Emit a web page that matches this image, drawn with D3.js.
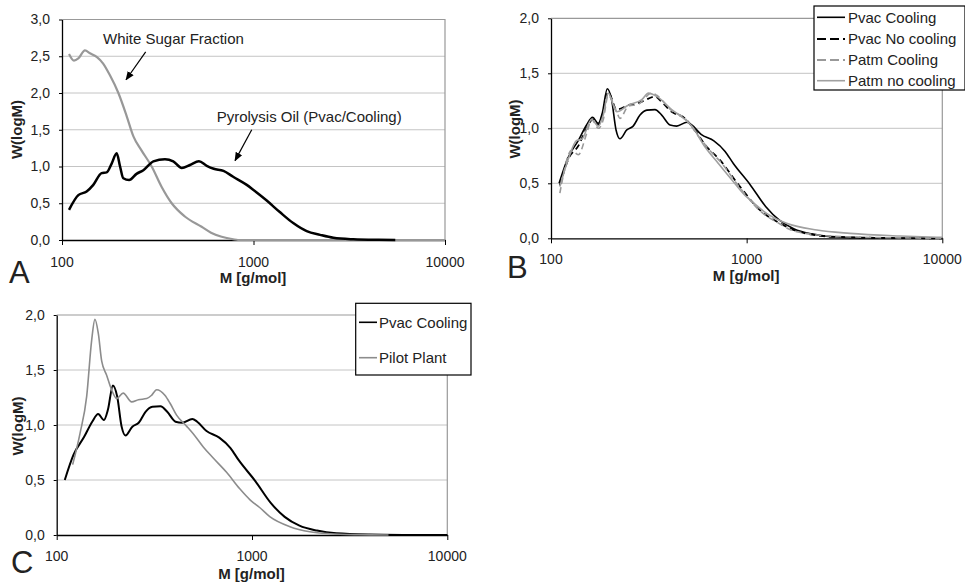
<!DOCTYPE html>
<html>
<head>
<meta charset="utf-8">
<script src="https://cdn.jsdelivr.net/npm/d3@7"></script>
<style>
  html, body { margin: 0; padding: 0; background: #fff; }
  svg { display: block; font-family: "Liberation Sans", Arial, sans-serif; }
</style>
</head>
<body>
<svg id="chart" width="965" height="582"></svg>
<script>
// Molar mass axis ticks (log scale) and W(logM) ticks
const massTicks = [100, 1000, 10000];
const wTicksA = [0, 0.5, 1.0, 1.5, 2.0, 2.5, 3.0];
const wTicksBC = [0, 0.5, 1.0, 1.5, 2.0];

// Panel A: white sugar fraction vs. pyrolysis oil
const sugarM = [108.8, 115.5, 121.7, 131.8, 140, 151.7, 164, 178, 197, 218, 236, 260, 294, 331, 374, 438, 536, 600, 682, 783, 830, 10000];
const sugarW = [2.53, 2.44, 2.47, 2.58, 2.54, 2.49, 2.40, 2.24, 2.0, 1.68, 1.41, 1.22, 1.0, 0.725, 0.5, 0.32, 0.18, 0.10, 0.045, 0.01, 0, 0];

const oilM = [108.8, 121.7, 134.5, 145.7, 161, 171, 181.7, 193, 201, 209, 224, 245, 266, 300, 345, 381, 422, 466, 519, 570, 620, 697, 783, 922, 1000, 1168, 1372, 1612, 1896, 2227, 2614, 3320, 4500, 5500];
const oilW = [0.41, 0.61, 0.66, 0.75, 0.91, 0.92, 1.04, 1.18, 1.0, 0.84, 0.815, 0.90, 0.95, 1.07, 1.10, 1.07, 0.98, 1.02, 1.07, 1.01, 0.97, 0.94, 0.86, 0.75, 0.68, 0.54, 0.38, 0.23, 0.12, 0.07, 0.03, 0.01, 0.002, 0];

// Panel B / C: process conditions
const pvacCoolM = [110, 122, 138, 152, 163, 174.5, 183, 194, 204, 215, 225, 244, 263, 285, 309, 340, 368, 406, 439, 495, 524, 585, 680, 776, 855, 1040, 1250, 1470, 1750, 2150, 2700, 4000, 6000, 10000];
const pvacCoolW = [0.50, 0.73, 0.89, 1.03, 1.10, 1.045, 1.14, 1.36, 1.26, 0.985, 0.905, 0.985, 1.02, 1.12, 1.165, 1.17, 1.12, 1.03, 1.02, 1.055, 1.03, 0.945, 0.885, 0.79, 0.68, 0.49, 0.29, 0.165, 0.085, 0.04, 0.015, 0.004, 0.001, 0];

const pvacNoM = [111, 122.6, 137.9, 152, 163, 174.5, 185, 196, 216.6, 248, 280, 315, 340, 368, 414, 484, 545, 613, 731, 924, 1170, 1482, 1665, 2000, 2456, 3500, 6000, 10000];
const pvacNoW = [0.48, 0.72, 0.84, 1.0, 1.08, 1.03, 1.15, 1.33, 1.17, 1.21, 1.23, 1.27, 1.29, 1.24, 1.15, 1.09, 0.98, 0.85, 0.71, 0.47, 0.257, 0.136, 0.09, 0.045, 0.02, 0.008, 0.002, 0];

const patmCoolM = [111, 127.6, 137.9, 152, 161.4, 174.5, 185, 196, 216.6, 225, 248, 280, 327, 347, 414, 484, 566, 663, 731, 924, 1170, 1482, 1665, 2000, 2456, 3500, 6000, 10000];
const patmCoolW = [0.41, 0.80, 0.76, 0.95, 1.08, 1.0, 1.08, 1.30, 1.15, 1.09, 1.20, 1.22, 1.32, 1.30, 1.16, 1.09, 0.93, 0.78, 0.70, 0.46, 0.25, 0.13, 0.08, 0.045, 0.025, 0.012, 0.004, 0];

const patmNoM = [111, 122.6, 135.3, 143.5, 161.4, 174.5, 185, 196, 216.6, 248, 291, 315, 347, 414, 484, 524, 613, 717, 841, 981, 1040, 1265, 1600, 2287, 3375, 6090, 10000];
const patmNoW = [0.47, 0.72, 0.89, 0.90, 1.08, 1.02, 1.12, 1.32, 1.15, 1.21, 1.26, 1.32, 1.29, 1.17, 1.08, 1.02, 0.83, 0.68, 0.53, 0.39, 0.35, 0.227, 0.136, 0.075, 0.045, 0.021, 0.008];

const pilotM = [120.7, 131.5, 142.4, 151, 157, 163.4, 170, 180, 191, 203, 219, 242, 262, 289, 306, 325, 358, 380, 411, 462, 500, 563, 633, 741, 866, 977, 1094, 1233, 1564, 1978, 2500, 3500, 5000];
const pilotW = [0.64, 0.92, 1.26, 1.77, 1.96, 1.83, 1.58, 1.455, 1.32, 1.24, 1.29, 1.21, 1.23, 1.24, 1.27, 1.32, 1.27, 1.20, 1.09, 0.99, 0.92, 0.80, 0.70, 0.57, 0.42, 0.32, 0.25, 0.167, 0.076, 0.03, 0.012, 0.003, 0];

const zip = (m, w) => m.map((v, i) => ({ m: v, w: w[i] }));

const svg = d3.select("#chart");
const fmtW = d => d.toFixed(1).replace(".", ",");

svg.append("defs").append("marker")
  .attr("id", "arrow")
  .attr("viewBox", "0 0 10 10")
  .attr("refX", 9).attr("refY", 5)
  .attr("markerWidth", 9).attr("markerHeight", 9)
  .attr("markerUnits", "userSpaceOnUse")
  .attr("orient", "auto")
  .append("path").attr("d", "M0,1 L10,5 L0,9 Z").attr("fill", "#000");

const panels = [
  {
    letter: "A", left: 62, right: 445, top: 19.5, bottom: 240, yMax: 3, yTicks: wTicksA,
    letterPos: [9, 283], yLabelPos: [17, 129.5], xLabelY: 283, tickLabelY: 267,
    series: [
      { data: zip(sugarM, sugarW), color: "#989898", width: 2.2 },
      { data: zip(oilM, oilW), color: "#000", width: 2.5 }
    ],
    notes: [
      { text: "White Sugar Fraction", at: [163.7, 2.67], from: [273.5, 2.56], to: [216, 2.18] },
      { text: "Pyrolysis Oil (Pvac/Cooling)", at: [642, 1.605], from: [979, 1.50], to: [801, 1.08] }
    ]
  },
  {
    letter: "B", left: 551, right: 942.3, top: 18.3, bottom: 238.3, yMax: 2, yTicks: wTicksBC,
    letterPos: [507, 278], yLabelPos: [515, 129], xLabelY: 281, tickLabelY: 264,
    series: [
      { name: "Pvac Cooling", data: zip(pvacCoolM, pvacCoolW), color: "#000", width: 1.6 },
      { name: "Pvac No cooling", data: zip(pvacNoM, pvacNoW), color: "#000", width: 1.8, dash: "6,4" },
      { name: "Patm Cooling", data: zip(patmCoolM, patmCoolW), color: "#999", width: 1.6, dash: "6,4" },
      { name: "Patm no cooling", data: zip(patmNoM, patmNoW), color: "#a0a0a0", width: 1.6 }
    ],
    legend: { x: 814, y: 6, w: 151, h: 84, rows: [17.3, 39, 60, 80.7], lineX: [817, 845], textX: 848 }
  },
  {
    letter: "C", left: 56.7, right: 447.3, top: 315, bottom: 535, yMax: 2, yTicks: wTicksBC,
    letterPos: [11, 573], yLabelPos: [18.3, 426], xLabelY: 579, tickLabelY: 561,
    series: [
      { name: "Pvac Cooling", data: zip(pvacCoolM, pvacCoolW), color: "#000", width: 2 },
      { name: "Pilot Plant", data: zip(pilotM, pilotW), color: "#8c8c8c", width: 1.6 }
    ],
    legend: { x: 355.7, y: 303.3, w: 115.3, h: 71.7, rows: [322.3, 357.7], lineX: [359, 377], textX: 379 }
  }
];

panels.forEach(p => {
  const x = d3.scaleLog().domain([100, 10000]).range([p.left, p.right]);
  const y = d3.scaleLinear().domain([0, p.yMax]).range([p.bottom, p.top]);
  const g = svg.append("g");

  // horizontal grid
  g.append("g").selectAll("line")
    .data(p.yTicks.filter(t => t > 0 && t < p.yMax))
    .join("line")
    .attr("x1", p.left).attr("x2", p.right)
    .attr("y1", d => y(d)).attr("y2", d => y(d))
    .attr("stroke", "#c4c4c4").attr("stroke-width", 1);

  // plot frame (top and right)
  g.append("path")
    .attr("d", `M${p.left},${y(p.yMax)}H${p.right}V${p.bottom}`)
    .attr("fill", "none").attr("stroke", "#999").attr("stroke-width", 1.2);

  // axes
  const xAxis = g.append("g").attr("transform", `translate(0,${p.bottom})`)
    .call(d3.axisBottom(x).tickValues(massTicks).tickFormat(d3.format("d")).tickSizeOuter(0).tickSizeInner(5).tickPadding(0));
  xAxis.select(".domain").attr("stroke", "#000").attr("stroke-width", 1.3);
  xAxis.selectAll(".tick line").attr("stroke", "#000");
  xAxis.selectAll(".tick text").remove();
  g.append("g").selectAll("text").data(massTicks).join("text")
    .attr("x", d => x(d)).attr("y", p.tickLabelY)
    .attr("text-anchor", "middle").attr("font-size", 14).attr("fill", "#222")
    .text(d3.format("d"));

  const yAxis = g.append("g").attr("transform", `translate(${p.left},0)`)
    .call(d3.axisLeft(y).tickValues(p.yTicks).tickFormat(fmtW).tickSizeOuter(0).tickSizeInner(3).tickPadding(9));
  yAxis.select(".domain").attr("stroke", "#000").attr("stroke-width", 1.3);
  yAxis.selectAll(".tick line").attr("stroke", "#000");
  yAxis.selectAll(".tick text").attr("font-size", 14).attr("fill", "#222")
    .attr("font-family", "Liberation Sans, Arial, sans-serif");

  // axis titles
  g.append("text")
    .attr("x", (p.left + p.right) / 2 - 0.5).attr("y", p.xLabelY)
    .attr("text-anchor", "middle").attr("font-size", 15).attr("font-weight", "bold").attr("fill", "#222")
    .text("M [g/mol]");
  g.append("text")
    .attr("transform", `translate(${p.yLabelPos[0] + 5},${p.yLabelPos[1]}) rotate(-90)`)
    .attr("text-anchor", "middle").attr("font-size", 15).attr("font-weight", "bold").attr("fill", "#222")
    .text("W(logM)");

  // panel letter
  g.append("text").attr("x", p.letterPos[0]).attr("y", p.letterPos[1])
    .attr("font-size", 31).attr("fill", "#222").text(p.letter);

  // curves
  const line = d3.line().x(d => x(d.m)).y(d => y(d.w)).curve(d3.curveMonotoneX);
  p.series.forEach(s => {
    g.append("path").datum(s.data)
      .attr("d", line)
      .attr("fill", "none").attr("stroke", s.color).attr("stroke-width", s.width)
      .attr("stroke-linejoin", "round")
      .attr("stroke-dasharray", s.dash || null);
  });

  // annotations
  (p.notes || []).forEach(n => {
    g.append("text").attr("x", x(n.at[0])).attr("y", y(n.at[1]))
      .attr("font-size", 15).attr("fill", "#222").text(n.text);
    g.append("line")
      .attr("x1", x(n.from[0])).attr("y1", y(n.from[1]))
      .attr("x2", x(n.to[0])).attr("y2", y(n.to[1]))
      .attr("stroke", "#000").attr("stroke-width", 1.2)
      .attr("marker-end", "url(#arrow)");
  });

  // legend
  if (p.legend) {
    const L = p.legend;
    const lg = g.append("g");
    lg.append("rect").attr("x", L.x).attr("y", L.y).attr("width", L.w).attr("height", L.h)
      .attr("fill", "#fff").attr("stroke", "#000").attr("stroke-width", 1.2);
    p.series.forEach((s, i) => {
      const ry = L.rows[i];
      lg.append("line").attr("x1", L.lineX[0]).attr("x2", L.lineX[1])
        .attr("y1", ry).attr("y2", ry)
        .attr("stroke", s.color).attr("stroke-width", s.dash ? 2 : 1.6)
        .attr("stroke-dasharray", s.dash ? "9,4" : null);
      lg.append("text").attr("x", L.textX).attr("y", ry).attr("dy", "0.36em")
        .attr("font-size", 15).attr("fill", "#222").text(s.name);
    });
  }
});
</script>
</body>
</html>
